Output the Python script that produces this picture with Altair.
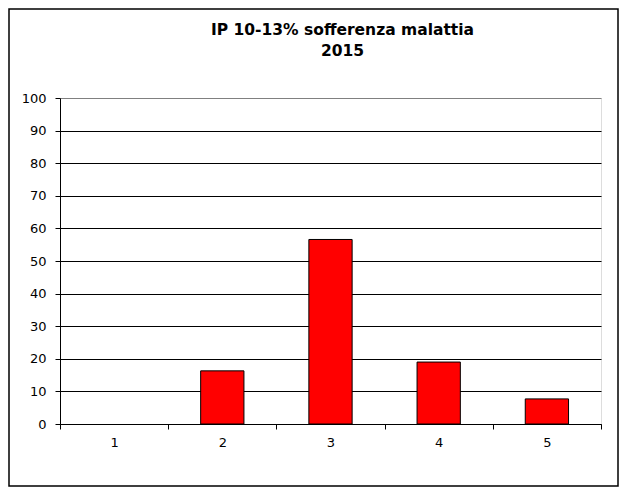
import altair as alt
import pandas as pd

categories = ["1", "2", "3", "4", "5"]
values = [0, 16.3, 56.6, 19.0, 7.7]
y_ticks = [0, 10, 20, 30, 40, 50, 60, 70, 80, 90, 100]

df = pd.DataFrame({"cat": categories, "val": values})

W, H = 541, 326
PAD = {"left": 52, "top": 90, "right": 18, "bottom": 63}
FONT = "DejaVu Sans"

bars = (
    alt.Chart(df)
    .mark_bar(color="#FF0000", strokeWidth=1, width=alt.RelativeBandSize(0.4))
    .encode(
        alt.X(
            "cat:N",
            sort=categories,
            scale=alt.Scale(paddingInner=0, paddingOuter=0),
            axis=alt.Axis(
                title=None,
                labelAngle=0,
                tickBand="extent",
                tickSize=5,
                tickColor="black",
                domainColor="black",
                labelPadding=7,
                labelFontSize=13,
                labelColor="black",
                labelFont=FONT,
                grid=False,
            ),
        ),
        alt.Y(
            "val:Q",
            scale=alt.Scale(domain=[0, 100], nice=False),
            axis=alt.Axis(
                title=None,
                values=y_ticks,
                tickSize=5,
                tickColor="black",
                domainColor="black",
                labelPadding=9,
                labelFontSize=13,
                labelColor="black",
                labelFont=FONT,
                gridColor=alt.condition(
                    "datum.value === 100", alt.value("#808080"), alt.value("black")
                ),
                gridOpacity=1,
            ),
        ),
        stroke=alt.condition("datum.val > 0", alt.value("black"), alt.value("transparent")),
    )
)

frame = (
    alt.Chart(pd.DataFrame({"a": [0]}))
    .mark_rect(fill=None, stroke="black", strokeWidth=1.5)
    .encode(
        x=alt.value(-PAD["left"] + 1),
        x2=alt.value(W + PAD["right"] - 1),
        y=alt.value(-PAD["top"] + 1),
        y2=alt.value(H + PAD["bottom"] - 1),
    )
)

chart = (
    alt.layer(bars, frame)
    .properties(
        width=W,
        height=H,
        autosize=alt.AutoSizeParams(type="none"),
        padding=PAD,
        title=alt.TitleParams(
            ["IP 10-13% sofferenza malattia", "2015"],
            font=FONT,
            fontSize=15.5,
            fontWeight="bold",
            color="black",
            anchor="middle",
            dx=12,
            offset=-51,
            lineHeight=21,
        ),
    )
    .configure_view(stroke="#808080", strokeWidth=1)
    .configure(background="white")
)

chart.save("out.html", embed_options={"renderer": "svg", "actions": False})
